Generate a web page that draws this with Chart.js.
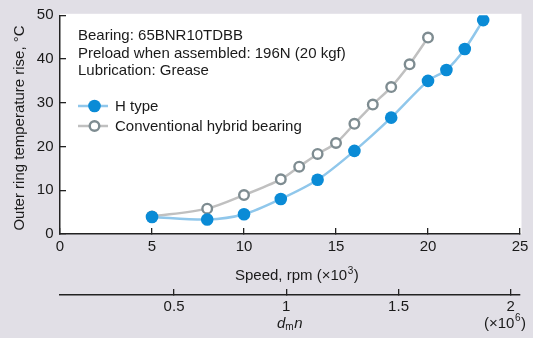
<!DOCTYPE html>
<html>
<head>
<meta charset="utf-8">
<script src="https://cdn.jsdelivr.net/npm/chart.js@4/dist/chart.umd.min.js"></script>
<style>
  html, body { margin: 0; padding: 0; background: #e1dfe6; }
  canvas { display: block; }
</style>
</head>
<body>
<canvas id="c" width="533" height="338"></canvas>
<script>
// ---- data ----
const hSpeed = [5, 8, 10, 12, 14, 16, 18, 20, 21, 22, 23];
const hTemp  = [3.9, 3.3, 4.5, 8.0, 12.4, 19.0, 26.6, 35.0, 37.5, 42.3, 48.9];
const convSpeed = [5, 8, 10, 12, 13, 14, 15, 16, 17, 18, 19, 20];
const convTemp  = [4.0, 5.8, 8.9, 12.5, 15.4, 18.3, 20.8, 25.2, 29.6, 33.6, 38.8, 44.9];
const speedTicks = [0, 5, 10, 15, 20, 25];
const tempTicks = [0, 10, 20, 30, 40, 50];
const dmnTicks = [0.5, 1, 1.5, 2];
const seriesNames = ['H type', 'Conventional hybrid bearing'];
const noteLines = ['Bearing: 65BNR10TDBB', 'Preload when assembled: 196N (20 kgf)', 'Lubrication: Grease'];

const FONT = '"Liberation Sans", Arial, Helvetica, sans-serif';
const TXT = '#1a1a1a';
const BLUE = '#0a8bd6', BLUE_LINE = '#90c7eb';
const GRAY = '#7e8c91', GRAY_LINE = '#c0c0c0';

const toXY = (xs, ys) => xs.map((x, i) => ({x, y: ys[i]}));
const noPad = s => { s.paddingTop = 0; s.paddingBottom = 0; s.paddingLeft = 0; s.paddingRight = 0; };

const decor = {
  id: 'decor',
  beforeDraw(chart) {
    const {ctx, chartArea: a} = chart;
    ctx.save();
    ctx.fillStyle = '#ffffff';
    ctx.fillRect(a.left, a.top - 1.5, a.right - a.left + 1.5, a.bottom - a.top + 1.5);
    ctx.restore();
  },
  afterDraw(chart) {
    const {ctx} = chart;
    ctx.save();
    ctx.fillStyle = TXT;
    ctx.textBaseline = 'alphabetic';
    ctx.textAlign = 'left';
    ctx.font = '15px ' + FONT;
    noteLines.forEach((t, i) => ctx.fillText(t, 78, 40 + i * 17.5));
    const leg = [
      {name: seriesNames[0], y: 106, fill: BLUE, stroke: BLUE, line: BLUE_LINE, r: 6.3, bw: 0},
      {name: seriesNames[1], y: 126, fill: '#ffffff', stroke: GRAY, line: GRAY_LINE, r: 4.8, bw: 2.4}
    ];
    leg.forEach(l => {
      ctx.strokeStyle = l.line; ctx.lineWidth = 2.5;
      ctx.beginPath(); ctx.moveTo(78, l.y); ctx.lineTo(108, l.y); ctx.stroke();
      ctx.beginPath(); ctx.arc(94.5, l.y, l.r, 0, Math.PI * 2);
      ctx.fillStyle = l.fill; ctx.fill();
      if (l.bw) { ctx.lineWidth = l.bw; ctx.strokeStyle = l.stroke; ctx.stroke(); }
      ctx.fillStyle = TXT;
      ctx.fillText(l.name, 115, l.y + 5);
    });
    ctx.save();
    ctx.translate(23.5, 128);
    ctx.rotate(-Math.PI / 2);
    ctx.textAlign = 'center';
    ctx.fillText('Outer ring temperature rise, \u00B0C', 0, 0);
    ctx.restore();
    let x = 235, yb = 280;
    ctx.textAlign = 'left';
    const p1 = 'Speed, rpm (\u00D710';
    ctx.fillText(p1, x, yb); x += ctx.measureText(p1).width;
    ctx.font = '10px ' + FONT; ctx.fillText('3', x + 0.5, yb - 6.5); x += ctx.measureText('3').width + 1;
    ctx.font = '15px ' + FONT; ctx.fillText(')', x, yb);
    x = 277; yb = 327.5;
    ctx.font = 'italic 15px ' + FONT; ctx.fillText('d', x, yb); x += ctx.measureText('d').width;
    ctx.font = '10px ' + FONT; ctx.fillText('m', x, yb + 2.5); x += ctx.measureText('m').width + 0.5;
    ctx.font = 'italic 15px ' + FONT; ctx.fillText('n', x, yb);
    x = 484;
    ctx.font = '15px ' + FONT;
    const p2 = '(\u00D710';
    ctx.fillText(p2, x, yb); x += ctx.measureText(p2).width;
    ctx.font = '10px ' + FONT; ctx.fillText('6', x + 0.5, yb - 6.5); x += ctx.measureText('6').width + 1;
    ctx.font = '15px ' + FONT; ctx.fillText(')', x, yb);
    ctx.restore();
  }
};

const tickFont = {family: FONT, size: 15};

new Chart(document.getElementById('c'), {
  type: 'scatter',
  data: {
    datasets: [
      {
        label: seriesNames[0],
        data: toXY(hSpeed, hTemp),
        showLine: true,
        borderColor: BLUE_LINE,
        borderWidth: 2.5,
        tension: 0.3,
        pointRadius: 6.3,
        pointBackgroundColor: BLUE,
        pointBorderColor: BLUE,
        pointBorderWidth: 0,
        pointHoverRadius: 6.3
      },
      {
        label: seriesNames[1],
        data: toXY(convSpeed, convTemp),
        showLine: true,
        borderColor: GRAY_LINE,
        borderWidth: 2.5,
        tension: 0.3,
        pointRadius: 4.8,
        pointBackgroundColor: '#ffffff',
        pointBorderColor: GRAY,
        pointBorderWidth: 2.4,
        pointHoverRadius: 4.8
      }
    ]
  },
  options: {
    responsive: false,
    animation: false,
    devicePixelRatio: 1,
    layout: { padding: { top: 15.3, right: 13, left: 0, bottom: 0 } },
    plugins: { legend: { display: false }, tooltip: { enabled: false } },
    scales: {
      x: {
        type: 'linear', position: 'bottom', weight: 0,
        min: 0, max: 25,
        afterBuildTicks: s => { s.ticks = speedTicks.map(v => ({value: v})); },
        afterFit: s => { s.height = 61; noPad(s); },
        grid: { drawOnChartArea: false, tickLength: -6, color: '#222', lineWidth: 1.3 },
        border: { color: '#222', width: 1.5 },
        ticks: { font: tickFont, color: TXT, padding: 10, maxRotation: 0, autoSkip: false }
      },
      x2: {
        type: 'linear', position: 'bottom', weight: 1,
        min: -0.008, max: 2.041,
        afterBuildTicks: s => { s.ticks = dmnTicks.map(v => ({value: v})); },
        afterFit: s => { s.height = 43; noPad(s); },
        grid: { drawOnChartArea: false, tickLength: -6, color: '#222', lineWidth: 1.3 },
        border: { color: '#222', width: 1.5 },
        ticks: { font: tickFont, color: TXT, padding: 9, maxRotation: 0, autoSkip: false,
                 callback: v => String(v) }
      },
      y: {
        type: 'linear', position: 'left',
        min: 0, max: 50,
        afterBuildTicks: s => { s.ticks = tempTicks.map(v => ({value: v})); },
        afterFit: s => { s.width = 60; noPad(s); },
        grid: { drawOnChartArea: false, tickLength: -6, color: '#222', lineWidth: 1.3 },
        border: { color: '#222', width: 1.5 },
        ticks: { font: tickFont, color: TXT, padding: 12.5 }
      }
    }
  },
  plugins: [decor]
});
</script>
</body>
</html>
